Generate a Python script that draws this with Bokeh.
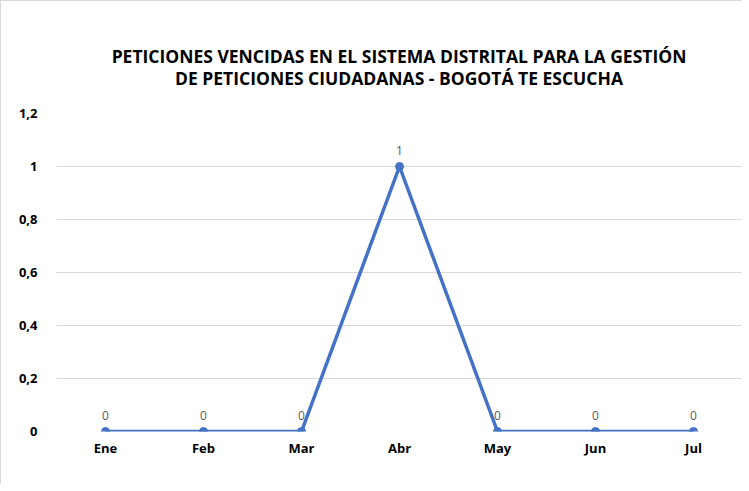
from bokeh.plotting import figure
from bokeh.models import ColumnDataSource, LabelSet, FixedTicker, CustomJSTickFormatter, Range1d, Div
from bokeh.layouts import column
from bokeh.core.properties import value
from bokeh.embed import file_html
from bokeh.resources import INLINE

months = ["Ene", "Feb", "Mar", "Abr", "May", "Jun", "Jul"]
values = [0, 0, 0, 1, 0, 0, 0]
y_ticks = [0, 0.2, 0.4, 0.6, 0.8, 1.0, 1.2]
title_line1 = "PETICIONES VENCIDAS EN EL SISTEMA DISTRITAL PARA LA GESTIÓN"
title_line2 = "DE PETICIONES CIUDADANAS - BOGOTÁ TE ESCUCHA"

FONT = "Open Sans"
BLUE = "#4472C4"

DIV_H = 95
title = Div(text=f"{title_line1}<br>{title_line2}", width=741, height=DIV_H,
            styles={"font-family": FONT, "font-weight": "bold", "font-size": "17.5px",
                    "line-height": "22px", "text-align": "center", "color": "#000000",
                    "padding-top": "44px", "padding-left": "55px", "box-sizing": "border-box",
                    "background-color": "white", "margin": "0"})

src = ColumnDataSource(dict(x=months, y=values, lbl=[str(v) for v in values]))

p = figure(x_range=months, y_range=Range1d(0, 1.2), width=741, height=483 - DIV_H,
           output_backend="svg", toolbar_location=None,
           min_border_left=55, min_border_right=0, min_border_top=112 - DIV_H, min_border_bottom=53)
p.outline_line_color = None
p.background_fill_color = "white"
p.border_fill_color = "white"

p.line("x", "y", source=src, line_color=BLUE, line_width=3.5)
p.scatter("x", "y", source=src, size=8, fill_color=BLUE, line_color=BLUE)

labels = LabelSet(x="x", y="y", text="lbl", source=src, y_offset=12, text_align="center",
                  text_baseline="bottom", text_font=value(FONT), text_font_size=value("12px"),
                  text_color=value("#595959"))
p.add_layout(labels)

p.xgrid.grid_line_color = None
p.ygrid.grid_line_color = "#d9d9d9"
p.ygrid.grid_line_width = 1

p.yaxis.ticker = FixedTicker(ticks=y_ticks)
p.yaxis.formatter = CustomJSTickFormatter(code="var s = (Math.round(tick*10)/10).toString(); return s.replace('.', ',');")
for ax in (p.xaxis[0], p.yaxis[0]):
    ax.axis_line_color = None
    ax.major_tick_line_color = None
    ax.minor_tick_line_color = None
    ax.major_label_text_font = FONT
    ax.major_label_text_font_style = "bold"
    ax.major_label_text_font_size = "13px"
    ax.major_label_text_color = "#000000"
p.yaxis.major_label_standoff = 13
p.xaxis.major_label_standoff = 1

layout = column(title, p, spacing=0,
                styles={"border-left": "1px solid #d9d9d9", "border-top": "1px solid #d9d9d9"})

open("out.html", "w").write(file_html(layout, INLINE))
